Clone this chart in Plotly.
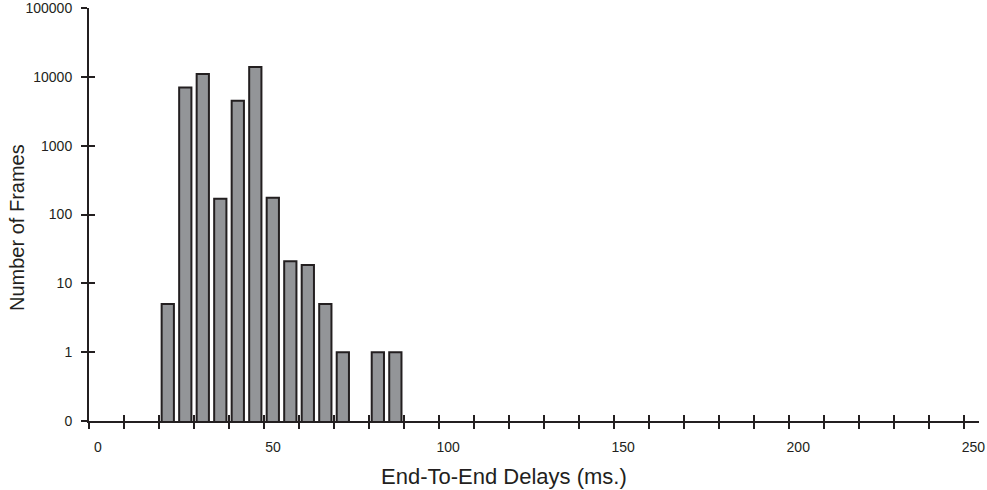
import plotly.graph_objects as go

# Data: 5 ms bins (bin centers) and frame counts
bin_centers = [22.5, 27.5, 32.5, 37.5, 42.5, 47.5, 52.5, 57.5, 62.5, 67.5, 72.5, 77.5, 82.5, 87.5]
frame_counts = [5, 7000, 11000, 170, 4500, 14000, 175, 21, 18.5, 5, 1, None, 1, 1]

x_tick_vals = list(range(0, 251, 10))
x_tick_text = [str(v) if v % 50 == 0 else "" for v in x_tick_vals]
y_tick_vals = [0.1, 1, 10, 100, 1000, 10000, 100000]
y_tick_text = ["0", "1", "10", "100", "1000", "10000", "100000"]

INK = "#231f20"
FONT = "Liberation Sans, Arial, sans-serif"
X_RANGE = [0, 254.2]
Y_RANGE = [-1, 5.002]

fig = go.Figure()
fig.add_trace(go.Bar(
    x=bin_centers, y=frame_counts, width=3.5,
    marker=dict(color="#939598", line=dict(color=INK, width=2)),
    showlegend=False, hoverinfo="x+y",
))
# empty trace so the overlay axes (inner half of the crossing ticks) are drawn
fig.add_trace(go.Scatter(x=[None], y=[None], xaxis="x2", yaxis="y2",
                         mode="markers", showlegend=False, hoverinfo="skip"))

fig.update_layout(
    width=987, height=490,
    margin=dict(l=89, r=8, t=8, b=69, autoexpand=False),
    plot_bgcolor="white", paper_bgcolor="white",
    font=dict(family=FONT, color=INK, size=14),
    xaxis=dict(
        range=X_RANGE, showline=True, linecolor=INK, linewidth=2,
        showgrid=False, zeroline=False, automargin=False,
        tickmode="array", tickvals=x_tick_vals, ticktext=x_tick_text,
        ticks="outside", ticklen=6, tickwidth=2, tickcolor=INK,
        ticklabelshift=9, ticklabelstandoff=6,
        tickfont=dict(size=14, color=INK),
    ),
    xaxis2=dict(
        range=X_RANGE, overlaying="x", anchor="y2", side="bottom",
        showline=False, showgrid=False, zeroline=False, automargin=False,
        tickmode="array", tickvals=x_tick_vals, showticklabels=False,
        ticks="inside", ticklen=6, tickwidth=2, tickcolor=INK,
    ),
    yaxis=dict(
        type="log", range=Y_RANGE, showline=True, linecolor=INK, linewidth=2,
        showgrid=False, zeroline=False, automargin=False,
        tickmode="array", tickvals=y_tick_vals, ticktext=y_tick_text,
        ticks="outside", ticklen=6, tickwidth=2, tickcolor=INK,
        ticklabelstandoff=6,
        tickfont=dict(size=14, color=INK),
    ),
    yaxis2=dict(
        type="log", range=Y_RANGE, overlaying="y", anchor="x2", side="left",
        showline=False, showgrid=False, zeroline=False, automargin=False,
        tickmode="array", tickvals=y_tick_vals, showticklabels=False,
        ticks="inside", ticklen=6, tickwidth=2, tickcolor=INK,
    ),
    bargap=0.3,
    annotations=[
        dict(text="End-To-End Delays (ms.)", xref="paper", yref="paper",
             x=0.4663, y=-0.1332, xanchor="center", yanchor="middle",
             showarrow=False, font=dict(size=22, color=INK, family=FONT)),
        dict(text="Number of Frames", xref="paper", yref="paper",
             x=-0.0809, y=0.4697, xanchor="center", yanchor="middle",
             textangle=-90, showarrow=False,
             font=dict(size=20, color=INK, family=FONT)),
    ],
)

fig.write_html("out.html", config={"displayModeBar": False},
               post_script="document.body.style.margin='0';document.body.style.padding='0';")
